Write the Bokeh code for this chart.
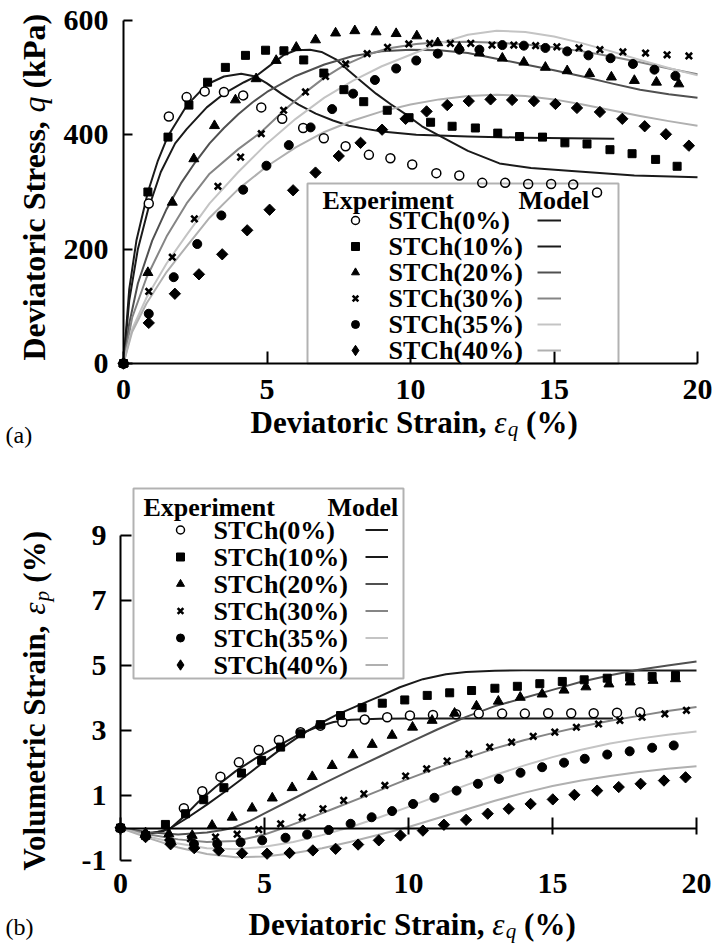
import math
from bokeh.plotting import figure
from bokeh.layouts import column
from bokeh.models import Range1d, FixedTicker, Legend, LegendItem, Label, BoxAnnotation
from bokeh.embed import file_html
from bokeh.resources import INLINE

series_names = ["STCh(0%)", "STCh(10%)", "STCh(20%)", "STCh(30%)", "STCh(35%)", "STCh(40%)"]
x_ticks = [0, 5, 10, 15, 20]
a_y_ticks = [0, 200, 400, 600]
b_y_ticks = [-1, 1, 3, 5, 7, 9]

# ---------------- (a) deviatoric stress: experiment ----------------
a_x_0 = [0, 0.88, 1.58, 2.2, 2.83, 3.5, 4.17, 4.8, 5.53, 6.26, 6.98, 7.74, 8.55, 9.3, 10.06, 10.9, 11.7, 12.5, 13.3, 14.1, 14.9, 15.67, 16.5]
a_q_0 = [0, 280, 432, 466, 476, 475, 469, 448, 428, 412, 394, 380, 365, 359, 348, 333, 329, 316, 316, 314, 314, 313, 299]
a_x_10 = [0, 0.85, 1.55, 2.28, 2.93, 3.55, 4.25, 4.95, 5.59, 6.28, 6.98, 7.68, 8.37, 9.19, 9.95, 10.7, 11.45, 12.26, 13.04, 13.8, 14.6, 15.38, 16.15, 16.95, 17.72, 18.54, 19.29]
a_q_10 = [0, 300, 396, 452, 492, 518, 539, 548, 547, 531, 508, 479, 458, 443, 430, 422, 415, 412, 403, 397, 396, 386, 384, 374, 367, 357, 345]
a_x_20 = [0, 0.85, 1.7, 2.45, 3.17, 3.9, 4.62, 5.32, 6.02, 6.69, 7.39, 8.06, 8.8, 9.5, 10.22, 10.95, 11.7, 12.4, 13.2, 13.95, 14.7, 15.46, 16.24, 17.0, 17.8, 18.57, 19.35]
a_q_20 = [0, 159, 282, 358, 416, 461, 498, 530, 553, 566, 578, 582, 580, 577, 573, 561, 553, 543, 534, 527, 518, 512, 507, 501, 495, 492, 489]
a_x_30 = [0, 0.88, 1.7, 2.47, 3.29, 4.08, 4.8, 5.58, 6.34, 7.04, 7.74, 8.49, 9.2, 9.94, 10.67, 11.39, 12.1, 12.84, 13.6, 14.36, 15.1, 15.87, 16.6, 17.4, 18.19, 18.94, 19.7]
a_q_30 = [0, 126, 186, 253, 310, 361, 402, 443, 475, 502, 524, 542, 553, 559, 560, 560, 560, 557, 557, 556, 554, 552, 549, 545, 543, 540, 538]
a_x_35 = [0, 0.88, 1.75, 2.57, 3.41, 4.17, 4.98, 5.76, 6.52, 7.27, 8.0, 8.76, 9.5, 10.2, 10.95, 11.7, 12.4, 13.2, 13.95, 14.7, 15.46, 16.2, 16.97, 17.75, 18.5, 19.23]
a_q_35 = [0, 87, 151, 209, 259, 304, 346, 382, 413, 445, 472, 496, 516, 530, 542, 549, 549, 557, 556, 552, 546, 539, 534, 524, 514, 503]
a_x_40 = [0, 0.88, 1.79, 2.63, 3.44, 4.31, 5.09, 5.91, 6.69, 7.5, 8.26, 9.01, 9.83, 10.56, 11.28, 12.03, 12.79, 13.54, 14.3, 15.05, 15.8, 16.6, 17.38, 18.16, 18.9, 19.7]
a_q_40 = [0, 71, 122, 156, 191, 233, 269, 303, 334, 363, 386, 409, 428, 441, 452, 459, 462, 461, 459, 454, 447, 440, 428, 415, 401, 381]

# ---------------- (a) model ----------------
a_mx_0 = [0, 0.2, 0.45, 0.85, 1.2, 1.55, 2.2, 2.9, 3.5, 4.1, 4.6, 5.0, 5.5, 6.1, 6.7, 7.3, 7.85, 8.5, 9.0, 10.2, 12, 14, 17.1]
a_mq_0 = [0, 130, 215, 300, 355, 398, 451, 488, 502, 507, 502, 490, 472, 453, 437, 425, 416, 410, 406, 400, 397, 395, 393]
a_mx_10 = [0, 0.2, 0.5, 0.85, 1.3, 1.8, 2.2, 2.9, 3.5, 4.2, 4.6, 5.2, 5.6, 6.0, 6.5, 6.9, 7.4, 7.85, 8.3, 8.8, 9.3, 9.8, 10.4, 11.1, 12.0, 13.1, 14.2, 15.5, 17.8, 20]
a_mq_10 = [0, 110, 200, 268, 335, 385, 410, 448, 472, 492, 502, 525, 540, 548, 549, 545, 532, 512, 493, 472, 454, 437, 415, 396, 372, 350, 342, 337, 329, 326]
a_mx_20 = [0, 0.2, 0.5, 1, 1.5, 2, 2.5, 3, 3.5, 4, 4.5, 5, 6, 7, 8, 9, 10, 11, 12, 13, 14, 15, 16, 17, 18, 19, 20]
a_mq_20 = [0, 70, 140, 215, 270, 315, 352, 385, 412, 436, 457, 475, 503, 523, 538, 546, 549, 548, 543, 533, 523, 513, 502, 490, 479, 471, 465]
a_mx_30 = [0, 0.3, 0.8, 1.5, 2.2, 3, 4, 4.8, 5.6, 6.3, 7, 7.7, 8.5, 9.2, 10.2, 11, 12, 13, 14, 15, 16, 17, 18, 19, 20]
a_mq_30 = [0, 80, 150, 222, 280, 332, 375, 405, 443, 473, 500, 522, 540, 551, 559, 562, 563, 561, 558, 553, 546, 537, 527, 516, 506]
a_mx_35 = [0, 0.3, 0.8, 1.5, 2.2, 3, 4, 5, 6, 7, 8, 9, 10, 11, 12, 13, 14, 15, 16, 17, 18, 19, 20]
a_mq_35 = [0, 60, 115, 175, 225, 280, 335, 385, 428, 465, 495, 520, 540, 560, 575, 582, 580, 572, 560, 546, 531, 517, 504]
a_mx_40 = [0, 0.3, 0.8, 1.5, 2.2, 3, 4, 5, 6, 7, 8, 9, 10, 11, 12, 13, 14, 15, 16, 17, 18, 19, 20]
a_mq_40 = [0, 55, 105, 160, 205, 255, 305, 345, 378, 405, 425, 441, 453, 462, 468, 470, 468, 462, 453, 443, 433, 424, 416]

# ---------------- (b) volumetric strain: experiment ----------------
b_x_0 = [0, 2.2, 2.84, 3.47, 4.11, 4.8, 5.5, 6.25, 6.94, 7.7, 8.48, 9.26, 10.05, 10.85, 11.65, 12.44, 13.25, 14.04, 14.85, 15.65, 16.43, 17.24, 18.04]
b_e_0 = [0, 0.61, 1.13, 1.58, 2.02, 2.4, 2.71, 2.95, 3.15, 3.26, 3.34, 3.41, 3.46, 3.48, 3.5, 3.52, 3.52, 3.52, 3.53, 3.53, 3.53, 3.55, 3.56]
b_x_10 = [0, 0.87, 1.56, 2.26, 2.89, 3.59, 4.2, 4.9, 5.56, 6.25, 6.94, 7.64, 8.39, 9.09, 9.87, 10.65, 11.43, 12.19, 13.0, 13.78, 14.56, 15.34, 16.1, 16.9, 17.68, 18.46, 19.27]
b_e_10 = [0, -0.23, 0.11, 0.44, 0.87, 1.24, 1.69, 2.08, 2.49, 2.9, 3.18, 3.46, 3.7, 3.84, 3.94, 4.08, 4.16, 4.23, 4.3, 4.36, 4.44, 4.51, 4.56, 4.61, 4.64, 4.66, 4.69]
b_x_20 = [0, 0.87, 1.68, 2.49, 3.18, 3.88, 4.57, 5.27, 5.96, 6.66, 7.35, 8.07, 8.74, 9.43, 10.14, 10.82, 11.6, 12.36, 13.12, 13.88, 14.64, 15.4, 16.16, 16.96, 17.7, 18.49, 19.27]
b_e_20 = [0, -0.15, -0.18, -0.23, 0.08, 0.33, 0.61, 0.92, 1.24, 1.58, 1.92, 2.25, 2.57, 2.85, 3.1, 3.31, 3.53, 3.75, 3.9, 4.02, 4.12, 4.24, 4.34, 4.43, 4.49, 4.54, 4.59]
b_x_30 = [0, 0.87, 1.65, 2.43, 3.3, 4.05, 4.8, 5.56, 6.31, 7.03, 7.75, 8.45, 9.18, 9.9, 10.63, 11.34, 12.1, 12.82, 13.58, 14.33, 15.08, 15.83, 16.6, 17.34, 18.11, 18.9, 19.65]
b_e_30 = [0, -0.2, -0.3, -0.33, -0.28, -0.19, -0.05, 0.13, 0.33, 0.59, 0.85, 1.05, 1.31, 1.6, 1.82, 2.06, 2.28, 2.49, 2.64, 2.82, 2.95, 3.1, 3.2, 3.31, 3.41, 3.51, 3.62]
b_x_35 = [0, 0.87, 1.74, 2.55, 3.36, 4.17, 4.92, 5.73, 6.48, 7.23, 7.99, 8.72, 9.43, 10.16, 10.9, 11.67, 12.41, 13.14, 13.89, 14.64, 15.4, 16.12, 16.9, 17.68, 18.46, 19.21]
b_e_35 = [0, -0.25, -0.44, -0.49, -0.49, -0.44, -0.38, -0.3, -0.2, -0.06, 0.13, 0.33, 0.52, 0.74, 0.93, 1.15, 1.36, 1.51, 1.7, 1.87, 2.01, 2.13, 2.26, 2.36, 2.47, 2.54]
b_x_40 = [0, 0.87, 1.74, 2.56, 3.41, 4.22, 5.09, 5.87, 6.68, 7.47, 8.25, 8.97, 9.72, 10.5, 11.23, 12.0, 12.75, 13.48, 14.24, 15.01, 15.76, 16.55, 17.3, 18.06, 18.87, 19.62]
b_e_40 = [0, -0.28, -0.5, -0.62, -0.69, -0.78, -0.79, -0.77, -0.69, -0.64, -0.51, -0.38, -0.23, -0.08, 0.1, 0.25, 0.44, 0.59, 0.74, 0.88, 1.02, 1.15, 1.26, 1.36, 1.46, 1.56]

# ---------------- (b) model ----------------
b_mx_0 = [0, 0.5, 1, 1.5, 1.75, 2.2, 2.7, 3.3, 4, 4.7, 5.6, 6.2, 6.8, 7.4, 8, 9, 10, 12, 14, 17.1]
b_me_0 = [0, -0.12, -0.16, -0.09, 0, 0.35, 0.8, 1.26, 1.75, 2.15, 2.59, 2.88, 3.1, 3.26, 3.33, 3.36, 3.37, 3.37, 3.37, 3.37]
b_mx_10 = [0, 0.5, 1, 1.4, 1.75, 2.3, 3, 3.6, 4.2, 5, 5.6, 6.3, 6.9, 7.5, 8.2, 9, 9.7, 10.5, 11.3, 12, 13, 14, 16, 18, 20]
b_me_10 = [0, -0.12, -0.18, -0.1, 0, 0.3, 0.72, 1.1, 1.5, 2.05, 2.45, 2.88, 3.2, 3.48, 3.75, 4.05, 4.33, 4.58, 4.73, 4.8, 4.84, 4.85, 4.85, 4.85, 4.85]
b_mx_20 = [0, 1, 2, 3, 3.5, 3.9, 4.5, 5, 6, 7, 8, 9, 10, 11, 12, 13, 14, 15, 16, 17, 18, 19, 20]
b_me_20 = [0, -0.13, -0.2, -0.14, -0.07, 0, 0.22, 0.45, 0.9, 1.35, 1.78, 2.2, 2.62, 3.03, 3.42, 3.75, 4.0, 4.25, 4.5, 4.7, 4.87, 5.0, 5.12]
b_mx_30 = [0, 1, 2, 3, 4, 5, 5.5, 6.5, 7.5, 8.5, 9.9, 11, 12, 13, 14, 15, 16, 17, 18, 19, 20]
b_me_30 = [0, -0.2, -0.35, -0.43, -0.4, -0.2, -0.05, 0.28, 0.63, 0.98, 1.48, 1.85, 2.15, 2.45, 2.7, 2.92, 3.12, 3.3, 3.45, 3.6, 3.72]
b_mx_35 = [0, 1, 2, 3, 4, 5, 6, 7, 8, 9, 10, 11, 12, 13, 14, 15, 16, 17, 18, 19, 20]
b_me_35 = [0, -0.27, -0.48, -0.62, -0.65, -0.58, -0.43, -0.22, 0.03, 0.33, 0.65, 0.98, 1.32, 1.63, 1.92, 2.18, 2.41, 2.6, 2.75, 2.87, 2.97]
b_mx_40 = [0, 1, 2, 3, 4, 5, 6, 7, 8, 9, 10, 11, 12, 13, 14, 15, 16, 17, 18, 19, 20]
b_me_40 = [0, -0.32, -0.6, -0.8, -0.9, -0.88, -0.78, -0.62, -0.42, -0.2, 0.03, 0.3, 0.57, 0.84, 1.08, 1.29, 1.46, 1.6, 1.72, 1.82, 1.9]

# ---------------- styles ----------------
FONT = "Liberation Serif"
LINE_COLORS = ["#1a1a1a", "#1a1a1a", "#505050", "#858585", "#c4c4c4", "#b0b0b0"]
MARKERS = [
    dict(marker="circle", size=9, fill_color="white", line_color="black", line_width=1.5),
    dict(marker="square", size=8, fill_color="black", line_color="black", line_width=1),
    dict(marker="triangle", size=10, fill_color="black", line_color="black", line_width=1),
    dict(marker="x", size=9, line_color="black", line_width=2.6),
    dict(marker="circle", size=9, fill_color="black", line_color="black", line_width=1),
    dict(marker="square", angle=math.pi / 4, size=8, fill_color="black", line_color="black", line_width=1),
]
W = 715


def make_fig(height, xr, yr):
    p = figure(width=W, height=height, x_range=Range1d(*xr), y_range=Range1d(*yr),
               output_backend="svg", toolbar_location=None,
               min_border=0, min_border_left=0, min_border_right=0,
               min_border_top=0, min_border_bottom=0)
    p.grid.visible = False
    p.outline_line_color = None
    p.background_fill_color = "white"
    p.border_fill_color = "white"
    return p


def style_axis(ax, ticks, bounds, t_in, t_out, standoff):
    ax.fixed_location = 0
    ax.bounds = bounds
    ax.ticker = FixedTicker(ticks=ticks)
    ax.major_label_overrides = {t: str(t) for t in ticks}
    ax.minor_tick_line_color = None
    ax.axis_line_width = 2
    ax.axis_line_color = "black"
    ax.major_tick_line_width = 2
    ax.major_tick_line_color = "black"
    ax.major_tick_in = t_in
    ax.major_tick_out = t_out
    ax.major_label_standoff = standoff
    ax.major_label_text_font = FONT
    ax.major_label_text_font_style = "bold"
    ax.major_label_text_font_size = "30px"
    ax.major_label_text_color = "black"


def draw_series(p, ex, ey, mx, my):
    lines, marks = [], []
    for i in range(6):
        lines.append(p.line(mx[i], my[i], line_color=LINE_COLORS[i], line_width=2, line_join="round"))
    for i in range(6):
        marks.append(p.scatter(ex[i], ey[i], **MARKERS[i]))
    # hidden copy of the 40% series, used only for its legend key (legend keys ignore marker angle)
    diamond_key = p.scatter(ex[5], ey[5], marker="diamond", size=8, fill_color="black",
                            line_color="black", visible=False)
    return lines, marks, diamond_key


def add_label(p, H, cx, cy, text, size, style="bold", angle=0.0, baseline="alphabetic"):
    # cx, cy: pixel position from the figure's top-left corner
    p.add_layout(Label(x=cx, y=H - cy, x_units="screen", y_units="screen", text=text,
                       text_font=FONT, text_font_style=style, text_font_size=f"{size}px",
                       text_color="black", angle=angle, text_align="left", text_baseline=baseline))


def add_legends(p, H, lines, marks, diamond_key, marker_left, label_start, line_left, line_w,
                row1_center, row_h, box, title_y, exp_x, model_x):
    n = 6
    top = row1_center - row_h / 2
    bottom = top + n * row_h
    common = dict(padding=0, margin=0, spacing=0, border_line_color=None, background_fill_alpha=0,
                  glyph_height=row_h, label_height=row_h, label_width=0, label_standoff=0,
                  label_text_font=FONT, label_text_font_size="1px", inactive_fill_alpha=0)
    legA = Legend(items=[LegendItem(label="", renderers=[marks[i]]) for i in range(n - 1)],
                  location=(marker_left, H - (top + (n - 1) * row_h)), glyph_width=20, **common)
    legC = Legend(items=[LegendItem(label="", renderers=[diamond_key])],
                  location=(marker_left + 10 - 13, H - bottom), glyph_width=26, **common)
    legB = Legend(items=[LegendItem(label="", renderers=[lines[i]]) for i in range(n)],
                  location=(line_left, H - bottom), glyph_width=line_w, **common)
    bl, br, bt, bbm = box
    p.add_layout(BoxAnnotation(left=bl, right=br, top=H - bt, bottom=H - bbm,
                               left_units="screen", right_units="screen",
                               top_units="screen", bottom_units="screen",
                               fill_alpha=0, line_color="black", line_width=2))
    p.add_layout(legA)
    p.add_layout(legC)
    p.add_layout(legB)
    add_label(p, H, exp_x, title_y, "Experiment", 26, baseline="middle")
    add_label(p, H, model_x, title_y, "Model", 26, baseline="middle")
    for i in range(n):
        add_label(p, H, label_start, row1_center + i * row_h, series_names[i], 26, baseline="middle")


def x_title(p, H, start, base, size, gap):
    w_main = 7.61 * size
    add_label(p, H, start, base, "Deviatoric Strain,", size)
    ex = start + w_main + gap
    add_label(p, H, ex, base, "\u03b5", size, style="italic")
    qx = ex + 0.44 * size
    add_label(p, H, qx, base + 6, "q", int(size * 0.68), style="italic")
    px = qx + 0.5 * size * 0.68 + 0.25 * size
    add_label(p, H, px, base, "(%)", size)


def add_vlabel(p, H, bx, cy, text, size, style="bold"):
    p.add_layout(Label(x=bx, y=H - cy, x_units="screen", y_units="screen", text=text,
                       text_font=FONT, text_font_style=style, text_font_size=f"{size}px",
                       text_color="black", angle=math.pi / 2, text_align="left",
                       text_baseline="alphabetic"))


# ================= Figure (a) =================
Ha = 455
X0a, SXa = 123.0, 28.7          # pixel of x=0, pixels per unit
Y0a, SYa = 363.0, 343.0 / 600   # pixel of q=0, pixels per kPa
pa = make_fig(Ha, (-X0a / SXa, (W - X0a) / SXa), ((Y0a - Ha) / SYa, Y0a / SYa))
style_axis(pa.xaxis[0], x_ticks, (0, 20), 12, 0, 16)
style_axis(pa.yaxis[0], a_y_ticks, (0, 600), 9, 0, 15)
la, ma, da = draw_series(pa,
                         [a_x_0, a_x_10, a_x_20, a_x_30, a_x_35, a_x_40],
                         [a_q_0, a_q_10, a_q_20, a_q_30, a_q_35, a_q_40],
                         [a_mx_0, a_mx_10, a_mx_20, a_mx_30, a_mx_35, a_mx_40],
                         [a_mq_0, a_mq_10, a_mq_20, a_mq_30, a_mq_35, a_mq_40])
add_legends(pa, Ha, la, ma, da, marker_left=345, label_start=388, line_left=537, line_w=24,
            row1_center=220, row_h=26, box=(307, 618, 183, 363), title_y=200, exp_x=322, model_x=518)
x_title(pa, Ha, 250, 422, 31, 7.75)
ys = 360
add_vlabel(pa, Ha, 33, ys, "Deviatoric Stress,", 32)
qy = ys - 7.748 * 32
add_vlabel(pa, Ha, 33, qy, "q", 32, style="italic")
add_vlabel(pa, Ha, 33, qy - 16 - 8, "(kPa)", 32)
add_label(pa, Ha, 5, 434, "(a)", 24, style="normal", baseline="middle")

# ================= Figure (b) =================
Hb = 489
OFF = 455                       # page y of this figure's top edge
X0b, SXb = 120.0, 28.8
Y0b, SYb = 827.5 - OFF, 32.5
pb = make_fig(Hb, (-X0b / SXb, (W - X0b) / SXb), ((Y0b - Hb) / SYb, Y0b / SYb))
style_axis(pb.xaxis[0], x_ticks, (0, 20), 11, 6, 40)
style_axis(pb.yaxis[0], b_y_ticks, (-1, 9), 11, 0, 14)
lb, mb, db = draw_series(pb,
                         [b_x_0, b_x_10, b_x_20, b_x_30, b_x_35, b_x_40],
                         [b_e_0, b_e_10, b_e_20, b_e_30, b_e_35, b_e_40],
                         [b_mx_0, b_mx_10, b_mx_20, b_mx_30, b_mx_35, b_mx_40],
                         [b_me_0, b_me_10, b_me_20, b_me_30, b_me_35, b_me_40])
add_legends(pb, Hb, lb, mb, db, marker_left=170, label_start=213, line_left=365, line_w=23,
            row1_center=529.5 - OFF, row_h=27, box=(133, 403, 488 - OFF, 678 - OFF),
            title_y=507 - OFF, exp_x=143, model_x=327)
x_title(pb, Hb, 248, 924 - OFF, 31, 7.75)
ys = 870 - OFF
add_vlabel(pb, Hb, 34, ys, "Volumetric Strain,", 31)
ey = ys - 8.249 * 31
add_vlabel(pb, Hb, 34, ey, "\u03b5", 31, style="italic")
py_ = ey - 0.44 * 31
add_vlabel(pb, Hb, 41, py_, "p", 21, style="italic")
add_vlabel(pb, Hb, 34, py_ - 10.5 - 8, "(%)", 31)
add_label(pb, Hb, 5, 926 - OFF, "(b)", 24, style="normal", baseline="middle")

layout = column(pa, pb, spacing=0)
open("out.html", "w").write(file_html(layout, INLINE))
